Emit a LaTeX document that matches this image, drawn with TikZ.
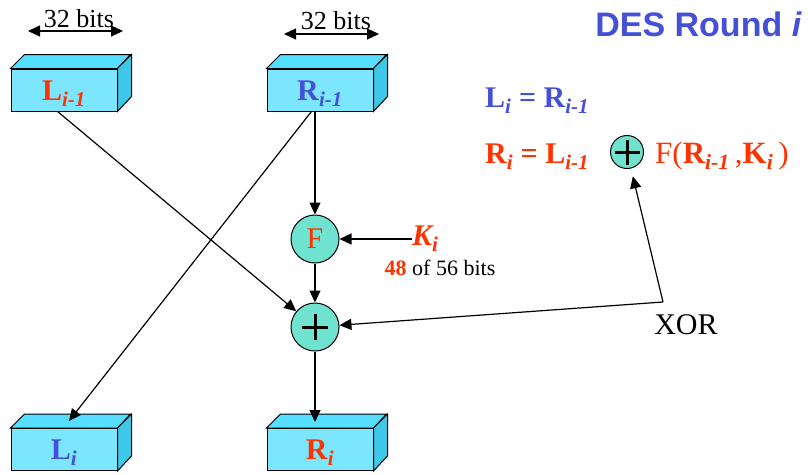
\documentclass[tikz,border=0pt]{standalone}
\usepackage{fontspec}
\setmainfont{Liberation Serif}
\newfontfamily\arialf{Liberation Sans}
\usetikzlibrary{arrows.meta,calc}
\definecolor{cfront}{RGB}{125,230,255}
\definecolor{ctop}{RGB}{85,222,255}
\definecolor{cside}{RGB}{60,200,230}
\definecolor{cring}{RGB}{112,226,208}
\definecolor{cred}{RGB}{255,51,0}
\definecolor{cblue}{RGB}{68,80,216}
\newcommand\fs[1]{\fontsize{#1}{#1}\selectfont}
\newcommand\lsub[1]{\raisebox{-0.32em}{\fontsize{0.7\fsz}{0.7\fsz}\selectfont #1}}
\newcommand\boxsides[1]{%
  \draw[line width=1pt,fill=ctop] (#1.north west) -- ++(14,-14) -- ++(106,0) -- (#1.north east) -- cycle;
  \draw[line width=1pt,fill=cside] (#1.north east) -- ++(14,-14) -- ++(0,42) -- (#1.south east) -- cycle;}
\newcommand\plussign[2]{%
  \draw[line width=3pt] ($(#1)+(-#2,0)$) -- ($(#1)+(#2,0)$);
  \draw[line width=3pt] ($(#1)+(0,-#2)$) -- ($(#1)+(0,#2)$);}
\begin{document}
\begin{tikzpicture}[x=1pt,y=-1pt,
  regbox/.style={draw, line width=1pt, fill=cfront, minimum width=106pt, minimum height=42pt, inner sep=0pt, text height=20pt, text depth=0pt, font=\fs{30}},
  ring/.style={draw, line width=1pt, circle, fill=cring, minimum size=48pt, inner sep=0pt},
  arr/.style={line width=1.2pt, -{Triangle[length=12pt,width=11pt]}},
  darr/.style={line width=1.2pt, {Triangle[length=12pt,width=11pt]}-{Triangle[length=12pt,width=11pt]}}]
\useasboundingbox (0,0) rectangle (808,474);

% boxes
\node[regbox] (Lp) at (64,90) {\textcolor{cred}{\textbf{L}\textsubscript{\textbf{\textit{i-1}}}}};
\boxsides{Lp}
\node[regbox] (Rp) at (320,90) {\textcolor{cblue}{\textbf{R}\textsubscript{\textbf{\textit{i-1}}}}};
\boxsides{Rp}
\node[regbox] (Li) at (64,449.5) {\textcolor{cblue}{\textbf{L}\textsubscript{\textbf{\textit{i}}}}};
\boxsides{Li}
\node[regbox] (Ri) at (320,449.5) {\textcolor{cred}{\textbf{R}\textsubscript{\textbf{\textit{i}}}}};
\boxsides{Ri}

% 32 bits
\coordinate (a1) at (28,31); \coordinate (a2) at (123,31);
\draw[darr] (a1) -- (a2);
\node[anchor=base, font=\fs{26}, inner sep=0pt] (t1) at (79,27) {32 bits};
\coordinate (b1) at (284,34); \coordinate (b2) at (379,34);
\draw[darr] (b1) -- (b2);
\node[anchor=base, font=\fs{26}, inner sep=0pt] (t2) at (336,29) {32 bits};

% title
\node[anchor=base east, font=\arialf\bfseries\fs{34}, text=cblue, inner sep=0pt] (title) at (802,36) {DES Round \textit{i}};

% F and XOR
\node[ring, font=\fs{30}, text=cred] (F) at (315,239) {F};
\node[ring] (X) at (315,327) {};
\plussign{X}{13}

% key
\node[anchor=west, font=\fs{30}\bfseries\itshape, text=cred, inner sep=0pt] (Ki) at (412,239) {K\textsubscript{i}};
\node[font=\fs{22}, inner sep=0pt] (kb) at (440,268) {\textcolor{cred}{\textbf{48}} of 56 bits};

% formulas
\node[anchor=base west, font=\fs{30}, text=cblue, inner sep=0pt] (f1) at (485,107) {\textbf{L\textsubscript{\textit{i}} = R\textsubscript{\textit{i-1}}}};
\node[anchor=base west, font=\fs{30}, text=cred, inner sep=0pt] (f2) at (485,163) {\textbf{R\textsubscript{\textit{i}} = L\textsubscript{\textit{i-1}}}};
\node[circle, draw, line width=1pt, fill=cring, minimum size=33pt, inner sep=0pt] (cp) at (627,152) {};
\draw[line width=3pt] ($(cp)+(-12.5,0)$) -- ($(cp)+(12.5,0)$);
\draw[line width=3pt] ($(cp)+(0,-12.5)$) -- ($(cp)+(0,12.5)$);
\node[anchor=base west, font=\fs{31}, text=cred, inner sep=0pt] (f3) at (655,163) {F(\textbf{R\textsubscript{\textit{i-1}}}\,,\textbf{K\textsubscript{\textit{i}}}\,)};

% XOR label
\node[font=\fs{30}, inner sep=0pt] (xorl) at (686,325) {XOR};
\coordinate (xo) at (663,302);

% connectors
\draw[arr] (F |- Rp.south) -- (F);
\draw[arr] (F) -- (X);
\coordinate (ritop) at (315,422);
\draw[arr] (X) -- (ritop);
\draw[arr] (Ki.west) -- (F);
\coordinate (lps) at ($(Lp.south west)!0.44!(Lp.south east)$);
\draw[arr] (lps) -- (X);
\coordinate (rps) at ($(Rp.south west)!0.42!(Rp.south east)$);
\coordinate (litop) at (69,421);
\draw[arr] (rps) -- (litop);
\draw[arr] (xo) -- (X);
\draw[arr, shorten >=8pt] (xo) -- (cp);
\end{tikzpicture}
\end{document}
